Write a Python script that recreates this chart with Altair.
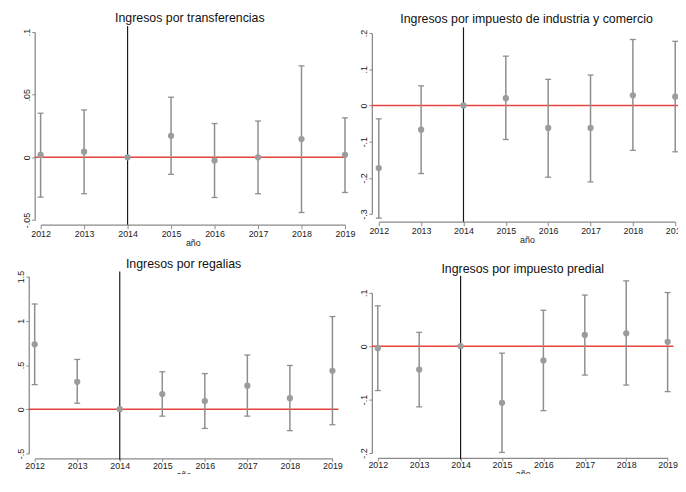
import altair as alt
import pandas as pd

years = [2012, 2013, 2014, 2015, 2016, 2017, 2018, 2019]

# Panel 1: Ingresos por transferencias
p1_title = "Ingresos por transferencias"
p1_coef = [0.0019, 0.0045, 0.0, 0.0172, -0.0026, 0.0, 0.0146, 0.0020]
p1_lo = [-0.0317, -0.0290, None, -0.0135, -0.0320, -0.0290, -0.0440, -0.0280]
p1_hi = [0.0352, 0.0378, None, 0.0480, 0.0270, 0.0290, 0.0730, 0.0315]
p1_ticks = [-0.05, 0, 0.05, 0.1]

# Panel 2: Ingresos por impuesto de industria y comercio
p2_title = "Ingresos por impuesto de industria y comercio"
p2_coef = [-0.173, -0.067, 0.0, 0.020, -0.062, -0.062, 0.028, 0.024]
p2_lo = [-0.311, -0.188, None, -0.094, -0.198, -0.211, -0.124, -0.128]
p2_hi = [-0.037, 0.054, None, 0.136, 0.072, 0.084, 0.182, 0.177]
p2_ticks = [-0.3, -0.2, -0.1, 0, 0.1, 0.2]

# Panel 3: Ingresos por regalias
p3_title = "Ingresos por regalias"
p3_coef = [0.734, 0.310, 0.0, 0.171, 0.093, 0.267, 0.125, 0.435]
p3_lo = [0.278, 0.068, None, -0.078, -0.217, -0.078, -0.242, -0.175]
p3_hi = [1.190, 0.563, None, 0.424, 0.403, 0.613, 0.495, 1.048]
p3_ticks = [-0.5, 0, 0.5, 1, 1.5]

# Panel 4: Ingresos por impuesto predial
p4_title = "Ingresos por impuesto predial"
p4_coef = [-0.0036, -0.0438, 0.0, -0.106, -0.0266, 0.0213, 0.0243, 0.0083]
p4_lo = [-0.083, -0.1136, None, -0.199, -0.1207, -0.054, -0.0728, -0.085]
p4_hi = [0.0757, 0.026, None, -0.013, 0.0675, 0.0959, 0.1225, 0.1006]
p4_ticks = [-0.2, -0.1, 0, 0.1]

event_year = 2014
FONT = "Liberation Sans"
AXIS_GRAY = "#8a8a8a"
BAR_GRAY = "#8e8e8e"
PT_GRAY = "#9c9c9c"
RED = "#e8433c"


def panel(title, coef, lo, hi, ticks, ydom, vline_y, hline_x,
          xrange, yrange, yoff, xoff, xtick=4, xpad=1, toff=0):
    df = pd.DataFrame({"year": years, "coef": coef, "lo": lo, "hi": hi})
    ci = df[df["lo"].notna()]
    vdf = pd.DataFrame({"year": [event_year], "y": [vline_y[0]], "y2": [vline_y[1]]})
    hdf = pd.DataFrame({"year": [hline_x[0]], "year2": [hline_x[1]], "y": [0.0]})

    xscale = alt.Scale(domain=[2012, 2019], nice=False, zero=False, range=xrange)
    yscale = alt.Scale(domain=ydom, nice=False, zero=False, range=yrange)
    xaxis = alt.Axis(values=years, format="d", offset=xoff, grid=False,
                     labelFlush=False, labelPadding=xpad, tickSize=xtick,
                     domainColor=AXIS_GRAY, tickColor=AXIS_GRAY, domainWidth=1.3,
                     labelFont=FONT, labelFontSize=9, labelColor="#222222",
                     titleFont=FONT, titleFontSize=9, titleFontWeight="normal",
                     titleColor="#222222", titlePadding=0)
    yaxis = alt.Axis(values=ticks, offset=yoff, grid=False, labelFlush=False,
                     labelAngle=270, labelAlign="center", labelBaseline="bottom",
                     labelPadding=0, tickSize=3,
                     labelExpr="replace(toString(datum.value), '0.', '.')",
                     domainColor=AXIS_GRAY, tickColor=AXIS_GRAY, domainWidth=1.3,
                     labelFont=FONT, labelFontSize=9, labelColor="#222222")

    def X(field):
        return alt.X(field, type="quantitative", scale=xscale, axis=xaxis, title="año")

    def Y(field):
        return alt.Y(field, type="quantitative", scale=yscale, axis=yaxis, title=None)

    hl = alt.Chart(hdf).mark_rule(color=RED, strokeWidth=1.5).encode(
        x=X("year"), x2="year2", y=Y("y"))
    vl = alt.Chart(vdf).mark_rule(color="#1a1a1a", strokeWidth=1.2).encode(
        x=X("year"), y=Y("y"), y2="y2")
    bars = alt.Chart(ci).mark_rule(color=BAR_GRAY, strokeWidth=1.5).encode(
        x=X("year"), y=Y("lo"), y2="hi")
    cap_lo = alt.Chart(ci).mark_tick(orient="horizontal", size=6, thickness=1.3,
                                     color=BAR_GRAY, opacity=1).encode(
        x=X("year"), y=Y("lo"))
    cap_hi = alt.Chart(ci).mark_tick(orient="horizontal", size=6, thickness=1.3,
                                     color=BAR_GRAY, opacity=1).encode(
        x=X("year"), y=Y("hi"))
    pts = alt.Chart(df).mark_circle(size=40, color=PT_GRAY, opacity=1).encode(
        x=X("year"), y=Y("coef"))
    return alt.layer(hl, vl, bars, cap_lo, cap_hi, pts).properties(
        width=xrange[1], height=yrange[0],
        title=alt.TitleParams(title, fontSize=12.5, font=FONT, fontWeight="normal",
                              color="#111111", offset=toff, frame="group", anchor="middle"))


c1 = panel(p1_title, p1_coef, p1_lo, p1_hi, p1_ticks, [-0.05, 0.1],
           [0.1047, -0.0537], [2011.864, 2019.03], [6, 314], [190.3, 0], 0, 4.7,
           toff=1)
c2 = panel(p2_title, p2_coef, p2_lo, p2_hi, p2_ticks, [-0.3, 0.2],
           [0.2156, -0.321], [2011.837, 2019.1], [1, 301], [184.3, 1.0], 6, 7.7,
           toff=1)
c3 = panel(p3_title, p3_coef, p3_lo, p3_hi, p3_ticks, [-0.5, 1.5],
           [1.557, -0.572], [2011.86, 2019.14], [0, 301.3], [179, 0], 6, 5,
           xtick=3, xpad=0)
c4 = panel(p4_title, p4_coef, p4_lo, p4_hi, p4_ticks, [-0.2, 0.1],
           [0.132, -0.2117], [2011.86, 2019.14], [0, 293.3], [162, 0], 6, 5,
           xtick=3, xpad=0)

col1 = alt.vconcat(c1, c3, spacing=10.5)
col2 = alt.vconcat(c2, c4, spacing=18)
chart = alt.hconcat(col1, col2, spacing=4.2).properties(
    padding={"left": 9, "top": 0.5, "right": -8, "bottom": -8.5},
    background="white",
).configure_view(strokeWidth=0)

chart.save("out.html", embed_options={"renderer": "svg", "actions": False})
